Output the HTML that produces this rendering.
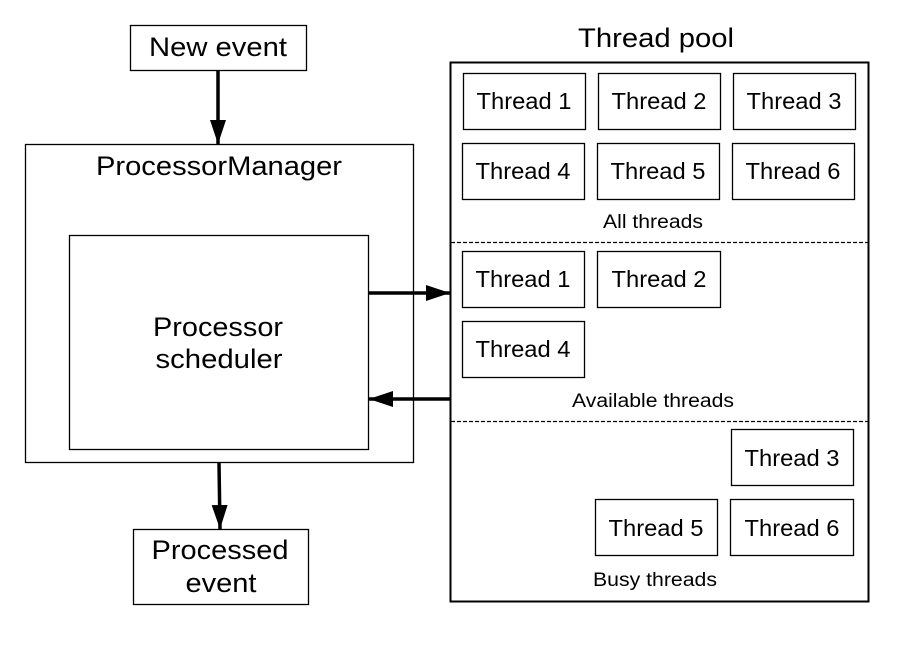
<!DOCTYPE html>
<html><head><style>
body{margin:0;background:#fff;width:907px;height:643px;overflow:hidden}
svg text{font-family:"Liberation Sans",sans-serif;fill:#000}
</style></head><body>
<svg width="907" height="643" xmlns="http://www.w3.org/2000/svg">
<defs><marker id="h" viewBox="0 0 24 16" markerWidth="24" markerHeight="16" refX="24" refY="8" orient="auto" markerUnits="userSpaceOnUse"><path d="M0,0 L24,8 L0,16z"/></marker></defs>
<g fill="none" stroke="#000" stroke-width="1.3">
<rect x="130.5" y="25.5" width="176" height="45"/>
<rect x="25.5" y="144.5" width="388" height="318"/>
<rect x="69.5" y="235.5" width="299" height="214"/>
<rect x="133.5" y="529.5" width="175" height="75"/>
<rect x="450.5" y="62.5" width="418" height="539" stroke-width="2"/>
<rect x="463.5" y="73.5" width="122" height="56"/><rect x="598.5" y="73.5" width="122" height="56"/><rect x="733.5" y="73.5" width="122" height="56"/>
<rect x="462.5" y="143.5" width="122" height="56"/><rect x="597.5" y="143.5" width="122" height="56"/><rect x="732.5" y="143.5" width="122" height="56"/>
<rect x="462.5" y="251.5" width="122" height="56"/><rect x="597.5" y="251.5" width="123" height="56"/>
<rect x="462.5" y="321.5" width="122" height="56"/>
<rect x="731.5" y="429.5" width="122" height="56"/>
<rect x="595.5" y="499.5" width="122" height="56"/><rect x="730.5" y="499.5" width="123" height="56"/>
<line x1="451" y1="242.5" x2="868" y2="242.5" stroke-dasharray="4,2"/>
<line x1="451" y1="421.5" x2="868" y2="421.5" stroke-dasharray="4,2"/>
</g>
<g stroke="#000" stroke-width="3.5" fill="none">
<line x1="218" y1="70" x2="218" y2="144" marker-end="url(#h)"/>
<line x1="368" y1="293" x2="450" y2="293" marker-end="url(#h)"/>
<line x1="450" y1="399" x2="369" y2="399" marker-end="url(#h)"/>
<line x1="219" y1="463" x2="220" y2="529" marker-end="url(#h)"/>
</g>
<g font-size="27" text-anchor="middle" lengthAdjust="spacingAndGlyphs">
<text x="218" y="56" textLength="138" lengthAdjust="spacingAndGlyphs">New event</text>
<text x="219" y="175" textLength="246" lengthAdjust="spacingAndGlyphs">ProcessorManager</text>
<text x="218" y="336" textLength="130" lengthAdjust="spacingAndGlyphs">Processor</text>
<text x="219" y="368" textLength="127" lengthAdjust="spacingAndGlyphs">scheduler</text>
<text x="220" y="559" textLength="137" lengthAdjust="spacingAndGlyphs">Processed</text>
<text x="221" y="592" textLength="71" lengthAdjust="spacingAndGlyphs">event</text>
<text x="656" y="47" textLength="156" lengthAdjust="spacingAndGlyphs">Thread pool</text>
</g>
<g font-size="23" text-anchor="middle">
<text x="524" y="109" textLength="95" lengthAdjust="spacingAndGlyphs">Thread 1</text><text x="659" y="109" textLength="95" lengthAdjust="spacingAndGlyphs">Thread 2</text><text x="794" y="109" textLength="95" lengthAdjust="spacingAndGlyphs">Thread 3</text>
<text x="523" y="179" textLength="95" lengthAdjust="spacingAndGlyphs">Thread 4</text><text x="658" y="179" textLength="95" lengthAdjust="spacingAndGlyphs">Thread 5</text><text x="793" y="179" textLength="95" lengthAdjust="spacingAndGlyphs">Thread 6</text>
<text x="523" y="287" textLength="95" lengthAdjust="spacingAndGlyphs">Thread 1</text><text x="659" y="287" textLength="95" lengthAdjust="spacingAndGlyphs">Thread 2</text>
<text x="523" y="357" textLength="95" lengthAdjust="spacingAndGlyphs">Thread 4</text>
<text x="792" y="466" textLength="95" lengthAdjust="spacingAndGlyphs">Thread 3</text>
<text x="656" y="536" textLength="95" lengthAdjust="spacingAndGlyphs">Thread 5</text><text x="792" y="536" textLength="95" lengthAdjust="spacingAndGlyphs">Thread 6</text>
</g>
<g font-size="19" text-anchor="middle">
<text x="653" y="228" textLength="100" lengthAdjust="spacingAndGlyphs">All threads</text>
<text x="653" y="407" textLength="162" lengthAdjust="spacingAndGlyphs">Available threads</text>
<text x="655" y="586" textLength="124" lengthAdjust="spacingAndGlyphs">Busy threads</text>
</g>
</svg>
</body></html>
